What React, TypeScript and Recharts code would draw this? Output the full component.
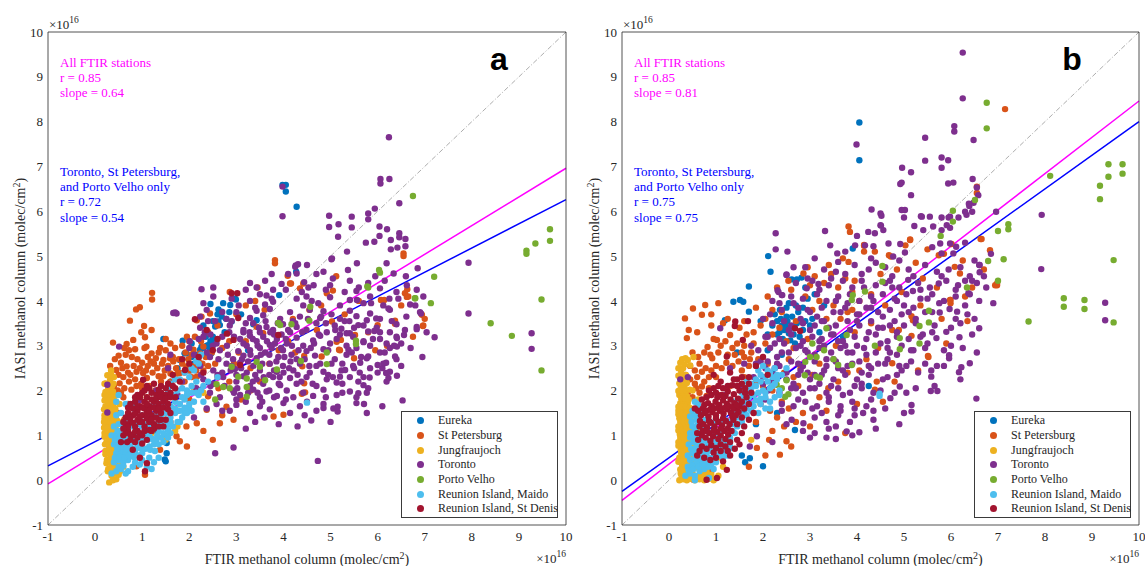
import React from 'react';
import { ScatterChart, Scatter, XAxis, YAxis, ReferenceLine, Legend } from 'recharts';

const SERIF = '"Liberation Serif", "Times New Roman", serif';
const SANS = '"Liberation Sans", Arial, sans-serif';
const INK = '#262626';

const TICKS = [-1, 0, 1, 2, 3, 4, 5, 6, 7, 8, 9, 10];
const DOMAIN: [number, number] = [-1, 10];

const STATION_NAMES = ['Eureka', 'St Petersburg', 'Jungfraujoch', 'Toronto', 'Porto Velho', 'Reunion Island, Maido', 'Reunion Island, St Denis'];
const STATION_COLORS = ['#0072BD', '#D95319', '#EDB120', '#7E2F8E', '#77AC30', '#4DBEEE', '#A2142F'];

// ---------- Panel a (x = FTIR, y = IASI, units 1e16 molec/cm2) ----------
const EUREKA_A = `1.45,3.15 1.86,3.11 2.45,3.93 2.62,3.81 2.69,3.76 2.69,3.65 2.62,3.54 2.58,3.46 2.99,4.03 2.87,3.91 2.23,2.91 2.3,2.95 2.37,3.0 1.94,2.83 1.8,2.68 1.52,0.83 1.48,0.46 1.5,0.42 1.52,0.6 3.91,4.13 3.98,6.59 4.05,6.59 4.05,6.44 4.28,6.1 2.55,3.43 2.65,3.46 2.4,3.01 2.47,2.83 2.1,2.6 1.9,2.83 2.26,2.98 2.44,2.9 2.97,4.05 2.9,3.54 3.43,3.57 3.36,3.48 4.27,4.65 2.05,2.75 2.15,2.8 1.75,2.5 1.6,2.2 2.0,2.45 2.5,3.2 2.75,3.3 3.1,3.7 3.25,2.9 1.35,1.5 1.25,1.1 2.55,3.1`;
const EUREKA_A_MORE = `2.35,3.2 2.5,3.55 2.6,3.7 2.78,3.6 2.72,3.95 2.85,3.75 2.45,3.1 2.2,2.75 2.05,3.05 2.3,3.45`;
const STPETE_A = `1.21,4.18 1.21,4.03 0.87,3.81 0.95,3.86 0.74,3.56 0.38,3.07 0.67,3.04 1.04,3.44 0.81,3.13 1.06,3.19 1.09,2.98 0.65,2.8 1.2,2.83 1.29,2.72 1.45,2.68 1.59,2.72 1.66,2.65 0.45,2.46 0.67,2.54 0.88,2.42 1.02,2.39 0.52,2.16 0.77,2.02 0.95,1.87 1.8,2.39 1.94,2.54 2.09,2.91 2.23,2.83 2.3,2.98 2.16,3.57 2.26,3.65 2.44,3.72 2.86,4.2 3.82,4.91 3.82,4.84 3.6,3.8 3.43,3.42 3.57,3.28 2.4,1.87 2.62,2.05 2.79,1.64 1.94,1.2 2.16,1.27 2.37,1.57 1.73,0.98 1.8,0.87 1.38,0.68 0.95,0.53 0.88,0.31 1.06,0.12 0.67,0.68 3.79,1.42 4.0,1.46 2.16,2.31 2.65,1.27 2.94,1.35 6.55,5.06 6.55,5.0 5.12,4.55 5.05,4.23 4.42,4.39 4.35,4.28 4.16,4.39 6.94,3.69 6.96,3.44 6.63,4.26 6.65,4.1 6.07,4.02 6.14,4.02 6.37,3.56 6.37,3.49 6.0,3.46 5.5,2.72 5.22,3.13 5.18,2.91 4.44,2.77 4.4,2.54 4.44,2.16 4.46,1.96 4.81,2.76 5.03,3.54 4.71,3.35 4.92,4.17 5.52,3.24 4.09,4.56 4.14,4.39 6.58,4.17 6.62,4.09 6.97,3.45 5.2,2.9 5.13,3.09 4.39,1.93 0.6,2.3 0.72,2.2 0.85,2.25 0.98,2.15 1.1,2.28 1.22,2.4 1.35,2.32 1.48,2.45 1.6,2.38 1.72,2.5 1.85,2.6 1.98,2.7 2.1,2.55 2.2,2.65 2.35,2.75 2.48,2.85 2.55,2.6 2.3,2.45 2.05,2.3 1.9,2.2 1.7,2.25 1.55,2.1 1.4,2.2 1.25,2.6 1.12,2.55 1.0,2.62 0.9,2.7 0.78,2.75 0.55,2.62 0.48,2.0 0.6,1.85 0.7,1.7 1.35,2.85 1.5,2.9 1.7,2.95 1.85,3.0 2.0,3.1 2.12,3.2 2.4,3.3 2.6,3.45 2.7,2.95 2.85,3.1 2.95,2.6 3.05,2.85 3.2,3.1 3.3,2.5 2.85,2.2 2.6,2.3 2.2,2.0 2.0,1.8 1.75,1.55 1.6,1.3 2.3,1.1 2.5,0.9 1.95,0.75 2.7,1.45 3.1,1.8 3.3,2.0 3.5,2.2 3.7,2.6 3.9,2.9 4.1,3.1 4.25,2.85 4.2,3.6 4.55,3.8 4.8,3.9 5.3,3.7 5.6,4.0 5.8,3.3 5.95,2.9 6.2,3.0 6.5,3.9 6.75,3.2 7.0,3.6 3.0,3.7 3.2,3.9 3.4,4.0 3.45,4.3 0.5,1.5 0.62,1.35`;
const STPETE_A_MORE = `0.35,2.3 0.42,2.7 0.5,2.35 0.58,2.5 0.7,2.4 0.82,2.55 0.95,2.5 1.08,2.45 1.18,2.65 1.32,2.5 1.42,2.6 1.55,2.55 1.65,2.75 1.78,2.7 1.92,2.85 2.05,2.8 0.62,2.05 0.75,2.35 0.88,2.1 1.0,2.05 1.15,2.1 1.28,2.0 1.45,2.32 1.6,2.2 1.75,2.38 1.9,2.4 2.02,2.45 2.15,2.45 2.28,2.6 2.4,2.55 0.55,1.95 0.4,2.1 0.32,2.55 0.5,2.78 0.62,2.95 0.72,2.9 1.12,2.75 1.38,2.95 1.6,3.05 1.95,3.2 2.25,3.1 0.85,2.92 1.05,2.95 1.2,3.35 0.98,3.3 1.5,3.15`;
const JUNGFRAU_A = `0.3,-0.05 0.38,0.0 0.45,0.02 0.35,0.1 0.42,0.15 0.5,0.12 0.28,0.25 0.36,0.3 0.46,0.28 0.55,0.3 0.25,0.45 0.33,0.5 0.41,0.45 0.5,0.5 0.58,0.48 0.22,0.65 0.3,0.7 0.38,0.68 0.47,0.72 0.55,0.7 0.24,0.85 0.32,0.9 0.4,0.88 0.5,0.92 0.2,1.05 0.28,1.1 0.36,1.08 0.45,1.12 0.22,1.25 0.3,1.3 0.39,1.28 0.48,1.32 0.2,1.45 0.27,1.5 0.35,1.48 0.43,1.52 0.22,1.65 0.3,1.7 0.38,1.68 0.25,1.85 0.33,1.9 0.42,1.88 0.28,2.05 0.36,2.1 0.32,2.25 0.34,2.45 0.4,2.3 0.2,2.15 0.52,1.7 0.55,1.0 0.62,0.8 0.6,0.3 0.65,1.3 1.2,1.05 1.45,1.35 1.7,1.1 1.75,1.2 1.85,2.2 2.1,2.05 1.1,1.85 0.9,1.6 2.3,1.95 0.7,0.95 1.5,0.9`;
const JUNGFRAU_A_MORE = `0.27,0.2 0.36,0.21 0.45,0.19 0.53,0.2 0.24,0.38 0.32,0.39 0.41,0.37 0.5,0.38 0.22,0.58 0.3,0.6 0.39,0.59 0.47,0.6 0.21,0.8 0.29,0.79 0.37,0.8 0.45,0.8 0.2,0.97 0.28,0.98 0.37,0.99 0.45,1.0 0.19,1.17 0.27,1.18 0.35,1.19 0.43,1.18 0.2,1.38 0.28,1.39 0.36,1.4 0.44,1.4 0.19,1.58 0.27,1.6 0.35,1.59 0.43,1.6 0.2,1.78 0.28,1.78 0.36,1.79 0.22,1.97 0.3,1.98 0.38,1.98 0.23,2.16 0.31,2.17 0.39,2.15 0.26,2.34 0.34,2.36 0.2,1.9 0.19,1.3`;
const TORONTO_A = `6.24,7.65 6.06,6.72 6.06,6.62 6.25,6.72 3.98,6.55 3.98,5.89 6.46,6.18 5.94,6.06 5.8,5.95 5.8,5.82 5.45,5.88 4.97,5.9 4.97,5.65 5.17,5.71 5.45,5.64 6.04,5.66 6.46,5.51 6.28,5.36 6.46,5.42 6.59,5.38 6.59,5.22 6.42,5.19 6.28,5.15 5.16,5.43 5.93,5.32 6.04,5.45 5.02,4.93 4.26,4.79 4.31,4.82 4.28,4.61
3.29,4.4 3.43,4.3 3.61,4.45 3.78,4.25 3.96,4.38 4.39,4.2 4.44,4.42 4.53,4.3 4.99,4.35 5.41,4.45 5.55,4.22 5.8,4.4 6.05,4.28 6.15,4.45 6.4,4.2 6.62,4.35 6.83,4.25
2.3,3.95 2.51,4.1 3.29,4.0 3.61,3.92 3.64,4.12 3.78,3.98 4.28,4.05 4.42,3.9 4.49,4.1 4.74,3.95 4.99,4.08 5.2,3.9 5.41,4.02 5.7,3.95 5.84,4.1 6.12,3.9 6.44,4.05 6.69,3.92 6.97,4.1
1.73,3.72 2.23,3.65 2.37,3.8 2.79,3.6 3.0,3.75 3.29,3.62 3.43,3.78 3.57,3.68 3.71,3.82 3.93,3.6 4.14,3.75 4.35,3.65 4.56,3.8 4.78,3.62 4.85,3.77 5.02,3.7 5.2,3.6 5.41,3.78 5.55,3.66 5.84,3.72 6.05,3.6 6.26,3.8 6.61,3.65 6.9,3.75
2.23,3.4 2.33,3.3 2.86,3.45 3.15,3.35 3.36,3.5 3.5,3.3 3.64,3.42 3.78,3.35 3.99,3.48 4.14,3.3 4.28,3.42 4.49,3.35 4.7,3.5 4.92,3.3 5.09,3.45 5.23,3.38 5.41,3.28 5.7,3.45 5.8,3.32 5.98,3.4 6.26,3.3 6.4,3.48 6.58,3.35 6.83,3.42 7.04,3.3
2.01,3.1 2.3,3.2 2.58,3.05 3.08,3.15 3.22,3.0 3.29,3.22 3.43,3.1 3.57,3.2 3.71,3.02 3.86,3.15 3.96,3.25 4.07,3.05 4.28,3.18 4.42,3.0 4.63,3.12 4.78,3.22 4.99,3.05 5.13,3.15 5.34,3.0 5.48,3.2 5.7,3.08 5.84,3.0 6.05,3.15 6.19,3.05 6.4,3.2
2.37,2.85 2.44,2.75 2.65,2.9 2.93,2.7 3.04,2.88 3.15,2.78 3.29,2.9 3.43,2.72 3.61,2.85 3.75,2.95 3.89,2.75 3.99,2.9 4.17,2.8 4.28,2.7 4.49,2.88 4.67,2.78 4.85,2.92 5.09,2.7 5.34,2.8 5.55,2.95 5.77,2.72 6.05,2.85 6.26,2.95 6.4,2.7
2.23,2.55 2.51,2.45 2.79,2.6 2.97,2.48 3.08,2.62 3.22,2.4 3.36,2.55 3.5,2.45 3.71,2.6 3.86,2.42 3.99,2.55 4.21,2.45 4.35,2.6 4.56,2.4 4.7,2.55 4.85,2.42 5.02,2.6 5.23,2.45 5.48,2.55 5.62,2.4 5.84,2.5 6.12,2.6 6.26,2.42
2.3,2.25 2.51,2.15 2.72,2.3 3.0,2.2 3.15,2.32 3.29,2.1 3.43,2.25 3.57,2.15 3.78,2.3 3.93,2.12 4.14,2.28 4.28,2.15 4.49,2.3 4.7,2.1 4.92,2.25 5.13,2.18 5.41,2.3 5.7,2.12 6.19,2.2
2.44,1.95 2.65,1.85 2.93,2.0 3.08,1.9 3.36,2.02 3.5,1.85 3.64,1.98 3.86,1.88 4.07,2.0 4.21,1.85 4.42,1.95 4.63,1.88 4.85,2.02 5.13,1.9 5.41,1.98 5.55,1.85 5.77,1.95
2.37,1.6 2.58,1.7 2.86,1.55 3.0,1.68 3.29,1.5 3.5,1.65 3.71,1.58 4.0,1.72 4.14,1.5 4.35,1.65 4.7,1.55 4.85,1.7 5.06,1.6 5.55,1.72 5.77,1.5 6.1,1.65 6.53,1.78
4.59,1.33 4.85,1.61 5.15,1.64 5.15,1.53 5.0,1.3 4.73,0.43 5.59,1.94 5.71,1.7 3.4,1.3 3.9,1.25 4.3,1.2 2.94,0.73 2.55,0.6 3.2,1.15
5.59,2.2 5.83,2.29 6.0,2.57 6.18,2.62 6.18,2.39 6.23,2.28 6.41,2.33 6.41,2.98 6.37,2.76 5.38,2.91 5.63,2.62 5.8,2.76 5.2,2.31 5.31,2.46 5.34,3.28 5.59,3.46 5.77,3.57 5.93,3.33 5.97,3.61 6.41,3.17 6.56,3.24 6.83,3.37 6.92,3.72 6.23,3.83 5.86,3.95 5.56,4.02 5.37,4.69 5.56,4.84 6.19,4.84 6.34,4.61 6.85,4.73 7.93,4.85 7.93,3.72 7.21,3.19 9.27,3.28 9.27,2.93 5.03,4.95 4.5,4.8 4.25,4.76 4.85,4.65 4.64,4.35
0.51,2.98 0.26,2.13 0.26,1.51 1.7,3.74 2.26,4.26 2.51,4.3 1.66,3.73 0.95,1.79 1.3,2.0 1.55,2.5 1.85,2.2 1.95,1.6 2.1,1.4 2.15,2.05 1.75,1.9 2.0,2.95 1.6,2.8
2.7,2.4 2.9,2.55 3.1,2.5 3.25,2.65 3.4,2.35 3.55,2.6 3.7,2.35 3.85,2.65 4.0,2.4 4.15,2.65 4.3,2.35 2.8,3.0 2.95,3.2 3.15,3.3 3.35,3.15 3.5,2.95 3.65,3.1 3.8,3.25 3.95,2.95 4.1,3.35 4.25,3.5 2.75,2.1 2.95,1.95 3.2,1.75 3.45,1.95 3.7,2.0 3.9,2.15`;
const TORONTO_A_MORE = `2.45,2.1 2.6,2.35 2.62,2.7 2.5,3.0 2.7,3.2 2.45,3.25 2.55,3.55 2.7,3.75 2.85,3.3 2.82,2.8 2.88,2.45 3.0,2.35 3.02,2.05 3.12,2.7 3.15,3.05 3.2,3.5 3.28,3.3 3.3,2.8 3.35,2.2 3.45,3.0 3.48,3.4 3.52,2.8 3.58,2.3 3.62,3.55 3.7,2.8 3.72,3.3 3.8,2.45 3.82,3.05 3.88,3.5 3.92,2.3 4.02,2.75 4.05,3.15 4.12,2.5 4.18,3.0 4.2,3.55 4.32,2.9 4.38,2.2 4.4,3.3 4.45,2.7 4.52,3.6 4.58,2.95 4.62,2.15 4.75,3.25 4.78,2.6 4.9,3.5 4.95,2.9 5.05,2.3 5.1,3.35 5.25,2.6 5.3,3.55 5.45,2.85 5.5,3.4 5.65,2.75 5.7,2.3 5.9,3.15 6.0,2.4 6.15,2.85 6.3,3.55 6.5,3.05 2.9,3.55 3.05,3.9 3.4,3.85 3.75,4.05 4.05,4.25 4.6,4.0 4.9,4.25 5.3,4.2 3.0,1.8 3.25,1.95 3.55,1.75 3.8,1.85 4.05,1.8 4.5,1.75 4.9,1.85 5.25,1.95 3.6,1.4 4.45,1.45 2.7,1.55
4.55,2.55 4.65,3.05 4.8,3.65 4.95,2.35 5.05,4.5 5.2,3.25 5.25,2.15 5.4,3.55 5.5,2.5 5.6,4.3 5.7,3.1 5.8,2.05 5.95,4.55 6.05,3.3 6.1,2.5 6.25,4.05 6.35,3.0 6.5,2.55 6.6,4.55 6.7,2.95 6.8,3.9 6.95,2.75 5.35,5.1 5.75,5.3 6.2,5.6 4.7,4.6 4.1,4.6 3.75,4.6 3.5,4.15 3.2,4.25 2.9,4.05 2.4,3.55 2.2,3.15 2.1,2.8 2.25,2.35`;
const PORTO_A = `6.03,4.69 6.05,4.63 6.8,4.06 7.13,3.95 7.2,4.54 6.75,6.34 9.16,5.12 9.16,5.05 9.35,5.28 9.66,5.34 9.66,5.6 9.48,4.03 9.48,2.45 8.4,3.5 8.85,3.22 5.54,3.11 5.54,3.04 4.92,2.85 4.92,2.59 5.8,4.3 4.57,3.87 4.55,3.56 4.37,2.66 4.17,3.48 3.89,3.51 3.93,3.46 3.86,2.47 3.43,2.64 3.5,2.53 2.9,2.53 3.04,2.31 3.22,2.27 3.22,2.08 2.72,2.08 2.86,2.05 2.58,2.14 3.61,2.23 3.22,1.86 2.55,1.8 5.78,4.32 6.79,4.06`;
const MAIDO_A = `0.35,0.15 0.45,0.2 0.55,0.25 0.4,0.4 0.5,0.45 0.6,0.4 0.7,0.45 0.45,0.6 0.55,0.62 0.65,0.6 0.75,0.65 0.85,0.6 0.4,0.8 0.5,0.78 0.6,0.82 0.7,0.8 0.8,0.85 0.9,0.8 1.0,0.85 0.35,1.0 0.45,1.02 0.55,1.0 0.65,1.05 0.75,1.0 0.85,1.05 0.95,1.0 1.05,1.05 1.15,1.0 0.4,1.2 0.5,1.25 0.6,1.2 0.7,1.28 0.8,1.2 0.9,1.25 1.0,1.2 1.1,1.25 1.2,1.2 1.3,1.25 0.45,1.45 0.55,1.5 0.7,1.45 0.85,1.5 1.0,1.45 1.1,1.42 1.2,1.45 1.3,1.48 1.4,1.45 1.5,1.5 1.35,1.1 1.45,1.2 1.55,1.25 1.6,1.4 1.7,1.5 1.5,1.7 1.6,1.65 1.7,1.75 1.8,1.7 1.9,1.8 1.4,1.65 1.3,1.7 1.2,1.65 1.45,1.9 1.55,1.95 1.65,1.9 1.75,2.0 1.85,2.05 1.95,2.0 2.05,2.1 1.6,2.15 1.8,2.25 2.0,2.3 2.1,2.45 2.2,2.6 2.25,2.8 1.3,0.9 1.5,1.0 1.6,1.05 1.4,0.95 0.5,1.9 0.45,1.75 0.65,1.7 0.8,1.7 1.0,0.6 1.15,0.75 1.25,0.8 0.95,0.35 1.1,0.3 1.25,0.4 0.7,0.2 2.0,1.6 2.2,1.9 2.4,2.2 2.6,2.3 2.3,1.75 4.5,1.73 2.15,2.2 1.9,1.5 1.8,1.3`;
const MAIDO_A_MORE = `0.5,0.3 0.6,0.32 0.42,0.5 0.52,0.52 0.62,0.5 0.72,0.55 0.82,0.52 0.92,0.55 0.47,0.7 0.57,0.72 0.67,0.7 0.77,0.72 0.87,0.7 0.97,0.72 1.07,0.7 1.17,0.68 1.27,0.65 0.42,0.9 0.52,0.92 0.62,0.9 0.72,0.92 0.82,0.95 0.92,0.92 1.02,0.95 1.12,0.9 1.22,0.92 1.32,1.0 0.48,1.1 0.58,1.12 0.68,1.15 1.4,1.3 1.5,1.35 1.6,1.3 1.45,1.05 1.55,1.12 1.65,1.2 1.75,1.3 1.85,1.4 1.95,1.5 2.05,1.55 1.7,1.6 1.8,1.55 1.9,1.62 2.0,1.7 2.1,1.75 2.15,1.95 2.05,1.95 1.95,1.9 1.85,1.85 2.25,2.0 2.3,2.1 1.7,2.25 1.9,2.4 2.05,2.5 2.15,2.65 1.55,2.05 1.4,1.85 1.5,1.6 1.35,0.8 1.45,0.85 1.55,0.95 0.85,0.4 1.0,0.45 1.15,0.5 0.8,0.3 0.65,0.15 1.2,0.25 1.35,0.5`;
const STDENIS_A = `0.6,1.0 0.7,1.1 0.8,1.0 0.9,1.1 1.0,1.0 0.65,1.25 0.75,1.3 0.85,1.2 0.95,1.3 1.05,1.2 1.15,1.3 1.25,1.25 0.7,1.5 0.8,1.45 0.9,1.55 1.0,1.45 1.1,1.5 1.2,1.45 1.3,1.55 1.4,1.5 0.75,1.7 0.85,1.75 0.95,1.65 1.05,1.75 1.15,1.65 1.25,1.75 1.35,1.7 1.45,1.75 1.55,1.7 0.9,1.9 1.0,1.95 1.1,1.85 1.2,1.95 1.3,1.9 1.4,1.95 1.5,1.9 1.6,1.95 1.7,1.85 1.1,2.1 1.25,2.15 1.4,2.1 1.55,2.15 1.7,2.05 1.8,2.2 1.02,2.24 1.91,2.46 1.65,2.35 2.0,2.6 2.2,2.75 2.37,3.35 2.6,3.15 2.94,3.13 2.9,4.17 3.02,4.17 2.12,3.59 2.8,3.27 3.04,3.62 3.89,3.24 3.08,2.57 0.8,0.68 0.95,0.5 1.1,0.38 1.06,0.2 0.55,0.85 1.5,1.35 1.6,1.5 1.35,1.35 1.45,1.2 0.85,0.85 1.2,1.1 2.3,2.4 2.5,2.9 1.85,2.7`;
const STDENIS_A_MORE = `0.65,1.05 0.75,1.02 0.85,1.08 0.95,1.05 1.05,1.1 1.15,1.12 1.25,1.15 1.35,1.2 0.7,1.2 0.8,1.28 0.9,1.35 1.0,1.3 1.1,1.38 1.2,1.35 1.3,1.4 1.4,1.35 0.65,1.4 0.75,1.4 0.85,1.48 0.95,1.42 1.05,1.6 1.15,1.55 1.25,1.62 1.35,1.6 1.45,1.62 1.55,1.58 0.7,1.62 0.8,1.6 0.9,1.65 1.0,1.62 1.1,1.7 1.2,1.8 1.3,1.82 1.4,1.85 1.5,1.82 1.6,1.85 0.85,1.85 0.95,1.85 1.05,2.0 1.15,2.05 1.35,2.02 1.5,2.05 1.65,2.1 0.75,0.9 0.9,0.95 1.1,0.9 1.0,0.82 0.68,0.85 0.6,1.15 0.6,1.3`;

// ---------- Panel b ----------
const EUREKA_B = `4.05,7.98 4.05,7.14 2.11,5.0 2.16,4.65 1.7,4.32 1.37,3.98 1.51,4.02 1.58,3.98 1.7,3.76 1.19,3.57 2.61,4.48 2.72,4.48 2.82,4.52 2.3,3.55 2.38,3.6 2.48,3.45 2.45,3.35 2.55,3.28 2.58,3.12 2.68,3.05 2.78,3.2 2.35,3.3 2.62,3.65 2.7,3.9 2.5,3.85 2.75,3.75 2.9,3.55 2.68,1.12 2.0,0.31 1.72,0.49 1.62,0.4 1.55,0.55 3.91,5.17 1.3,1.1 1.6,1.5 2.2,2.4 2.4,2.8 2.9,4.3 3.05,3.6 3.3,3.9 1.45,2.85 2.1,2.9 3.7,3.2 4.25,2.1 2.36,3.8 2.5,3.65`;
const EUREKA_B_MORE = `2.25,3.7 2.4,3.45 2.52,3.55 2.6,3.4 2.65,3.25 2.72,3.5 2.85,3.35 2.42,3.15 2.3,3.25 2.55,3.95 2.85,3.85 2.95,4.05 3.1,4.15 2.2,3.45 2.1,3.25 1.95,3.55 3.0,3.45 1.85,1.25 2.3,1.5 3.2,3.3`;
const STPETE_B = `0.34,3.61 0.51,3.83 0.7,3.69 0.77,3.91 0.38,3.17 0.82,2.97 1.3,3.24 1.02,3.13 0.92,2.72 0.7,2.42 0.7,2.09 0.8,1.88 2.86,4.61 2.54,4.45 2.13,0.9 2.5,0.87 1.87,0.72 2.36,0.57 0.52,0.01 0.95,3.15 1.1,3.0 1.2,3.1 1.35,2.95 1.45,3.05 1.55,2.85 1.05,2.85 1.25,2.8 0.35,2.35 0.45,2.25 0.55,2.15 0.6,2.3 0.65,1.95 0.75,2.2 0.85,2.05 0.4,1.95 0.5,1.85 1.5,3.4 1.65,3.25 1.8,3.3 1.95,3.45 2.05,3.05 2.2,3.25 2.35,3.4 2.5,3.1 2.65,2.95 1.75,2.85 1.9,2.7 2.1,2.6 2.3,2.55 2.45,2.4 2.65,2.3 2.8,2.5 1.7,2.55 1.6,2.3 1.85,2.2 2.0,2.1 2.2,2.0 2.95,4.75 3.1,4.55 3.3,4.4 3.45,4.6 3.6,4.3 3.75,4.5 3.9,4.2 4.05,4.0 3.2,4.0 3.5,3.9 3.05,3.8 2.9,4.1 3.8,3.75 3.65,3.6 1.95,1.7 2.15,1.55 2.3,1.4 2.55,1.6 2.7,1.3 2.45,1.2 2.2,1.1 1.85,1.3 2.85,1.5 3.0,1.2 0.6,0.05 0.75,0.1 0.45,0.4 0.9,0.2 4.68,5.02 5.74,5.02 6.98,4.39 6.98,4.35 5.99,4.02 5.99,3.95 5.16,3.66 5.19,3.57 4.89,3.35 5.16,3.22 5.51,2.77 4.38,2.02 4.75,2.61 6.55,6.55 6.55,6.41 5.13,5.37 6.01,5.27 6.63,5.38 5.03,5.24 4.15,5.25 4.15,5.1 4.38,5.1 3.82,5.66 3.85,5.54 5.13,5.36 4.15,5.23 4.72,4.99 3.82,4.87 6.08,4.76 6.19,4.61 6.65,5.38 6.83,5.13 6.94,4.35 5.98,4.02 5.52,2.75 4.42,2.2 3.39,2.05 7.15,8.28 3.55,3.0 3.95,3.3 4.3,3.5 4.6,3.9 4.95,4.2 5.4,4.5 5.7,4.3 6.3,4.1 4.2,2.7 3.8,2.4 3.2,2.6 4.55,1.75 3.35,1.55 3.75,1.05`;
const STPETE_B_MORE = `0.45,2.55 0.55,2.45 0.65,2.6 0.78,2.5 0.9,2.45 1.0,2.55 1.12,2.5 1.22,2.62 1.35,2.55 1.48,2.65 1.6,2.75 1.72,2.7 0.5,2.85 0.62,2.75 0.75,2.85 0.88,2.8 1.4,2.8 1.6,3.0 1.8,3.05 0.58,2.05 0.85,2.3 1.0,2.3 1.55,2.45 0.42,3.35 0.6,3.3 0.9,3.45 1.15,3.5 2.05,3.6 2.4,3.75 2.7,3.55 2.2,3.8
0.9,3.7 1.05,3.95 1.25,3.6 1.6,3.55 1.85,3.85 2.1,4.1 2.3,4.3 2.6,4.25 3.0,4.35 3.4,4.8 3.7,4.95 3.95,4.45 4.3,4.15 4.5,4.6 4.85,4.7 5.25,4.85 5.5,5.15 5.85,5.05 6.25,4.9 6.45,4.3 6.7,4.7 6.35,3.55 5.8,3.6 5.35,3.9 4.75,3.35 4.45,2.95 4.05,2.45 3.6,2.2 3.05,2.35 2.75,2.1 2.55,2.7 2.95,3.15 3.35,3.6 3.9,3.8 1.3,2.1 1.05,1.9 1.55,1.75 1.75,1.95 2.4,1.75 2.6,0.75 2.05,0.55 1.7,0.3 3.2,1.85 4.0,1.7 4.8,2.2 5.3,2.45 5.9,3.05`;
const JUNGFRAU_B = `0.22,0.0 0.3,0.02 0.38,0.0 0.46,0.03 0.55,0.0 0.65,0.02 0.75,0.0 0.85,0.03 0.95,0.0 0.25,0.15 0.33,0.18 0.42,0.14 0.5,0.16 0.28,0.32 0.36,0.35 0.45,0.3 0.22,0.5 0.3,0.52 0.4,0.5 0.48,0.48 0.25,0.68 0.33,0.7 0.42,0.68 0.2,0.85 0.28,0.88 0.37,0.86 0.46,0.85 0.23,1.02 0.31,1.05 0.4,1.03 0.2,1.2 0.28,1.22 0.36,1.2 0.45,1.22 0.22,1.38 0.3,1.4 0.38,1.38 0.2,1.55 0.28,1.58 0.36,1.55 0.24,1.72 0.32,1.75 0.4,1.72 0.22,1.9 0.3,1.92 0.38,1.88 0.25,2.08 0.33,2.1 0.28,2.25 0.36,2.28 0.26,2.42 0.33,2.58 0.24,2.62 0.4,2.68 0.45,2.56 0.52,2.75 0.5,2.0 0.55,1.5 0.58,0.6 0.7,0.15 0.8,0.2 1.05,0.1 0.6,1.1 0.62,1.8 1.05,0.5 1.15,0.3 1.75,0.9`;
const JUNGFRAU_B_MORE = `0.27,0.08 0.35,0.09 0.43,0.08 0.52,0.1 0.6,0.09 0.24,0.24 0.32,0.25 0.4,0.24 0.48,0.25 0.56,0.28 0.2,0.41 0.28,0.42 0.36,0.42 0.44,0.41 0.52,0.4 0.26,0.6 0.34,0.6 0.42,0.59 0.5,0.62 0.2,0.77 0.28,0.78 0.36,0.77 0.44,0.76 0.52,0.78 0.24,0.94 0.32,0.95 0.41,0.94 0.5,0.95 0.2,1.11 0.28,1.12 0.36,1.12 0.44,1.1 0.24,1.3 0.32,1.3 0.4,1.3 0.48,1.32 0.2,1.47 0.28,1.48 0.36,1.47 0.44,1.48 0.2,1.64 0.28,1.65 0.36,1.64 0.44,1.62 0.26,1.82 0.34,1.82 0.42,1.8 0.2,1.99 0.28,2.0 0.36,2.0 0.44,2.02 0.22,2.16 0.3,2.18 0.38,2.17 0.2,2.33 0.28,2.34 0.36,2.35 0.2,2.5 0.3,2.5 0.28,2.7 0.35,2.72 0.7,0.08 0.8,0.1 0.9,0.12 0.65,0.3 0.75,0.32`;
const TORONTO_B = `6.25,9.54 6.25,8.52 3.99,7.49 6.07,7.9 6.07,7.78 5.45,7.64 6.48,7.59 5.8,7.2 5.94,7.14 5.8,6.97 5.45,7.13 4.96,6.97 5.15,6.87 4.95,6.64 4.92,6.61 5.15,6.36 5.94,6.62 6.05,6.64 6.46,6.72 6.55,6.53 6.58,6.36 6.39,6.12 6.48,6.19 6.3,5.99 4.31,6.04 5.02,6.03 5.0,5.86 4.52,5.9 4.51,5.68 5.38,5.88 5.55,5.88 5.8,5.86 5.98,5.88 6.16,5.86 6.33,5.92 5.91,5.69 5.98,5.63 5.22,5.67 5.41,5.58 5.62,5.66 5.8,5.58 3.32,5.56 4.24,5.54 4.38,5.51 4.56,5.58 2.27,5.51 2.52,5.1 2.27,5.15 3.43,5.24 3.58,5.06 3.6,4.87 4.0,5.45 3.96,5.24 4.17,5.24 4.35,5.22 4.92,5.27 4.67,5.28 4.77,4.99 5.02,5.08 5.77,5.28 5.98,5.28 6.11,5.21 5.8,5.06 6.05,5.06 2.31,4.24 2.4,4.13 2.5,4.59 2.93,4.28 3.18,4.38
2.9,4.75 3.3,4.7 3.55,4.65 3.95,4.8 4.25,4.7 4.6,4.75 5.1,4.7 5.45,4.8 5.7,4.65 6.2,4.75 6.6,4.8
2.7,4.4 3.05,4.45 3.4,4.35 3.7,4.45 3.9,4.3 4.1,4.45 4.4,4.35 4.7,4.45 4.9,4.3 5.3,4.4 5.55,4.3 5.9,4.45 6.15,4.35 6.45,4.45 6.75,4.3
2.6,4.1 2.85,4.05 3.15,4.15 3.35,4.0 3.6,4.1 3.85,4.15 4.05,4.0 4.3,4.1 4.55,4.15 4.8,4.05 5.05,4.15 5.35,4.05 5.6,4.15 5.85,4.0 6.1,4.1 6.4,4.15 6.6,4.0
2.4,3.8 2.75,3.85 3.0,3.75 3.25,3.85 3.5,3.75 3.75,3.85 4.0,3.7 4.2,3.85 4.45,3.75 4.7,3.8 4.95,3.7 5.2,3.85 5.45,3.75 5.76,3.74 5.97,3.82 6.13,3.76 6.37,4.17
2.2,3.5 2.45,3.55 2.85,3.5 3.1,3.45 3.3,3.55 3.55,3.45 3.8,3.55 4.05,3.45 4.3,3.55 4.55,3.4 4.8,3.55 5.0,3.45 5.25,3.5 5.65,3.45 5.9,3.31 6.6,3.39 6.2,3.5
2.1,3.2 2.35,3.15 2.6,3.25 2.85,3.1 3.05,3.2 3.25,3.15 3.5,3.25 3.7,3.1 3.95,3.2 4.2,3.15 4.4,3.25 4.65,3.1 4.85,3.2 5.1,3.15 5.69,3.17 6.18,3.19 5.4,3.25
1.9,2.9 2.15,2.95 2.4,2.85 2.7,2.95 2.95,2.85 3.2,2.95 3.45,2.85 3.65,2.95 3.9,2.85 4.15,2.95 4.4,2.85 4.65,2.95 4.85,2.8 5.2,2.9 5.96,2.72 5.96,2.79 5.45,2.95
1.85,2.6 2.1,2.65 2.35,2.55 2.6,2.65 2.85,2.55 3.1,2.65 3.35,2.55 3.55,2.65 3.8,2.55 4.05,2.65 4.3,2.5 4.6,2.6 4.9,2.55 5.15,2.65 6.4,2.61 6.22,2.52
2.0,2.3 2.25,2.35 2.5,2.25 2.75,2.35 3.0,2.25 3.25,2.35 3.5,2.25 3.75,2.35 4.0,2.25 4.25,2.35 4.55,2.25 4.85,2.35 5.58,2.31 5.58,2.45 6.17,2.41
2.1,2.0 2.35,1.95 2.6,2.05 2.85,1.95 3.1,2.05 3.35,1.95 3.6,2.05 3.85,1.95 4.1,2.05 4.35,1.95 4.91,2.09 5.71,1.99 5.57,1.99
2.4,1.7 2.65,1.65 2.9,1.75 3.15,1.65 3.4,1.75 3.65,1.65 3.9,1.75 4.2,1.65 4.71,1.83 5.16,1.68 6.54,1.82
2.61,1.35 2.86,1.27 3.1,1.4 3.35,1.3 3.6,1.45 4.13,1.5 5.16,1.53 5.0,1.5 3.85,1.3
3.78,1.09 4.05,1.07 3.55,0.92 1.87,0.98 1.72,0.75 2.2,0.85 3.1,1.05
0.24,2.25 0.4,2.3 1.09,3.39 2.33,4.2 2.41,4.13 2.5,4.58 1.2,1.9 1.5,2.1 1.6,2.6 1.8,2.3 1.75,3.0 2.0,3.6 1.3,2.5
6.61,4.64 6.61,4.8 5.74,4.39 5.09,4.47 5.19,4.22 7.92,4.71 9.28,3.96 9.28,3.57 6.96,5.99 7.93,5.92 6.38,6.17 4.5,5.95 4.5,5.69 4.95,6.03 5.36,5.89 5.95,5.86 6.45,5.99 6.4,4.55 6.55,4.4 6.3,3.9 6.5,3.6`;
const TORONTO_B_MORE = `2.0,2.15 2.25,2.5 2.3,2.75 2.25,3.05 2.5,2.4 2.55,2.85 2.55,3.35 2.65,2.15 2.75,2.6 2.8,3.0 2.8,3.6 2.95,2.4 3.0,2.05 3.0,3.35 3.1,2.8 3.15,3.65 3.2,2.15 3.3,2.45 3.3,3.0 3.4,3.4 3.45,2.1 3.5,2.7 3.6,3.1 3.65,3.75 3.7,2.45 3.7,1.9 3.8,2.85 3.85,3.35 3.95,2.1 4.0,3.0 4.05,3.7 4.1,2.4 4.2,2.8 4.25,3.3 4.3,1.8 4.35,4.0 4.45,2.6 4.5,3.05 4.55,3.65 4.65,2.3 4.7,2.85 4.75,4.3 4.85,3.3 4.95,2.45 5.0,3.9 5.05,1.95 5.15,2.9 5.25,3.6 5.3,2.4 5.35,4.25 5.5,3.05 5.6,3.75 5.7,2.55 5.8,4.55 5.85,2.9 6.0,3.4 6.1,4.25 6.25,2.95 6.35,3.7 6.5,4.9 2.95,4.5 3.2,4.25 3.45,4.5 3.75,4.6 4.1,4.6 4.4,4.85 4.75,4.55 2.15,3.7 2.35,3.95 2.65,3.95 2.05,2.5 2.4,1.55 2.75,1.8 3.25,1.5 3.55,1.2 3.95,1.45 4.35,1.35 4.6,1.6 2.85,1.1 3.35,0.95
2.05,1.8 2.2,2.2 2.3,2.6 2.45,3.05 2.6,3.45 2.7,2.05 2.8,2.45 2.9,2.9 2.95,3.8 3.05,1.6 3.1,2.35 3.2,3.1 3.25,3.55 3.35,2.7 3.4,1.85 3.45,3.25 3.55,4.0 3.6,2.5 3.65,1.55 3.75,3.0 3.8,3.95 3.9,2.6 3.95,1.6 4.0,3.55 4.1,2.15 4.15,4.3 4.25,2.55 4.3,3.85 4.35,1.55 4.45,3.4 4.5,2.0 4.6,4.4 4.65,2.7 4.7,3.45 4.8,1.95 4.85,4.0 4.95,3.0 5.05,2.55 5.1,3.75 5.2,4.55 5.25,2.05 5.35,3.2 5.45,2.6 5.5,4.05 5.6,3.3 5.65,2.1 5.75,3.95 5.85,2.55 5.95,4.7 6.0,3.0 6.1,3.6 6.2,2.25 6.3,4.45 6.45,3.25 6.55,2.85 6.7,4.55 6.85,5.05 6.9,3.95 6.3,5.3 5.6,5.2 4.9,4.9 4.3,4.95 3.75,5.1 3.1,4.95 2.65,4.75 2.2,4.0 2.05,3.2 1.95,2.65 2.5,1.25 3.0,0.95 3.4,1.15 3.9,1.0 4.4,1.15 4.9,1.25`;
const PORTO_B = `6.76,8.42 6.76,7.85 8.11,6.79 9.35,7.05 9.35,6.77 9.65,7.05 9.65,6.84 9.17,6.57 9.17,6.27 6.04,6.01 6.51,6.25 6.04,5.77 5.78,5.45 7.0,5.56 7.22,5.71 7.22,5.6 9.46,4.91 7.12,4.93 6.79,4.89 7.0,4.45 6.34,4.3 8.4,4.06 8.4,3.87 8.84,4.02 8.84,3.82 7.65,3.54 9.46,3.52 5.53,3.78 5.53,3.52 5.33,3.44 5.33,3.05 4.91,3.17 4.91,2.92 4.38,3.0 4.54,4.78 4.54,4.43 4.17,4.21 3.91,4.13 3.89,4.02 3.78,3.24 3.35,3.39 3.14,2.75 3.0,2.75 2.9,2.64 2.5,2.23 2.54,1.92 2.47,1.86 2.89,2.34 3.6,2.57 3.89,2.57 3.14,2.31 3.21,2.28 2.29,2.13 2.4,2.05 3.05,3.05 3.3,2.9 3.5,2.7`;
const MAIDO_B = `0.35,0.1 0.45,0.15 0.55,0.1 0.65,0.2 0.75,0.25 0.4,0.3 0.5,0.35 0.6,0.4 0.7,0.45 0.8,0.4 0.9,0.35 1.0,0.4 0.4,0.55 0.5,0.6 0.6,0.62 0.7,0.65 0.8,0.6 0.9,0.65 1.0,0.7 1.1,0.6 0.42,0.8 0.52,0.85 0.62,0.82 0.72,0.88 0.82,0.85 0.92,0.9 1.02,0.85 1.12,0.9 1.22,0.8 0.45,1.05 0.55,1.1 0.65,1.05 0.75,1.12 0.85,1.05 0.95,1.1 1.05,1.05 1.15,1.1 1.25,1.05 0.48,1.3 0.58,1.35 0.68,1.28 0.78,1.35 0.88,1.3 1.0,1.32 1.1,1.3 1.2,1.35 1.3,1.3 0.5,1.55 0.6,1.6 0.72,1.55 0.55,1.75 1.35,1.5 1.45,1.55 1.55,1.6 1.4,1.75 1.5,1.8 1.6,1.75 1.7,1.85 1.8,1.9 1.65,2.0 1.75,2.05 1.85,2.1 1.95,2.2 2.05,2.3 2.15,2.4 2.25,2.5 1.9,2.45 2.0,2.55 2.1,2.2 2.2,2.1 2.3,2.25 1.55,1.3 1.65,1.45 1.75,1.55 1.45,1.2 1.3,0.95 1.4,1.05 1.2,0.6 1.3,0.75 0.55,0.0 0.85,0.05 4.48,1.93 4.48,1.88 2.4,2.35 1.95,1.7 2.35,2.0 2.5,2.5 1.9,1.95 2.05,1.85 2.15,1.75 1.8,1.65 2.0,2.0`;
const MAIDO_B_MORE = `0.42,0.22 0.52,0.25 0.62,0.3 0.72,0.35 0.84,0.3 0.95,0.25 0.45,0.45 0.55,0.48 0.65,0.52 0.75,0.55 0.85,0.5 0.95,0.52 1.05,0.55 1.15,0.5 1.25,0.55 0.47,0.7 0.57,0.72 0.67,0.75 0.77,0.75 0.87,0.72 0.97,0.78 1.07,0.75 1.17,0.72 1.28,0.7 0.45,0.95 0.55,0.97 0.65,0.95 1.3,0.9 1.35,1.1 1.38,1.25 0.5,1.2 0.6,1.22 0.45,1.42 0.55,1.45 0.65,1.42 0.62,1.7 1.45,1.4 1.55,1.45 1.65,1.6 1.75,1.7 1.85,1.78 1.95,1.82 2.05,1.95 2.15,2.05 2.25,2.15 2.3,2.35 2.2,2.3 2.1,2.45 1.95,2.35 1.85,2.25 1.75,2.15 1.65,2.2 1.55,1.95 1.6,1.85 1.45,1.65 1.35,1.4 2.35,1.9 2.25,1.85 2.15,1.6 2.05,1.6 1.9,1.5`;
const STDENIS_B = `0.62,0.9 0.7,1.0 0.78,0.95 0.86,1.05 0.94,0.98 1.02,1.08 1.1,1.0 1.18,1.1 1.26,1.02 0.65,1.2 0.73,1.25 0.81,1.18 0.89,1.28 0.97,1.2 1.05,1.3 1.13,1.22 1.21,1.32 1.29,1.25 1.37,1.35 0.68,1.45 0.76,1.5 0.84,1.42 0.92,1.52 1.0,1.45 1.08,1.55 1.16,1.48 1.24,1.58 1.32,1.5 1.4,1.6 1.48,1.52 0.75,1.68 0.83,1.72 0.91,1.65 0.99,1.75 1.07,1.68 1.15,1.78 1.23,1.7 1.31,1.8 1.39,1.72 1.47,1.82 1.55,1.75 0.9,1.9 1.0,1.95 1.12,1.9 1.25,1.98 1.38,1.92 1.5,2.0 1.62,1.95 0.7,0.75 0.8,0.7 0.9,0.78 1.0,0.72 1.1,0.8 1.2,0.75 1.3,0.85 0.75,0.5 0.88,0.45 1.0,0.5 1.15,0.42 1.3,0.55 1.45,0.9 1.55,1.05 1.6,1.2 1.7,1.35 1.8,1.5 0.8,0.01 1.02,0.05 1.23,0.23 1.41,3.54 1.68,3.55 1.57,3.13 1.23,2.76 1.4,3.44 2.68,3.39 2.79,3.33 1.7,2.3 1.85,2.55 2.0,2.75 1.3,2.4 1.1,2.2 0.95,2.35 0.55,1.6 2.1,2.35 1.45,2.25`;
const STDENIS_B_MORE = `0.6,1.05 0.66,1.32 0.72,1.1 0.8,1.1 0.85,1.32 0.88,0.88 0.95,1.12 1.0,1.38 1.05,0.92 1.1,1.15 1.15,1.38 1.2,0.92 1.25,1.15 1.33,1.1 1.35,1.42 1.42,1.45 1.45,1.25 1.5,1.65 1.55,1.4 1.6,1.6 1.65,1.85 1.7,1.7 1.62,2.05 1.55,2.15 1.45,2.1 1.35,2.12 1.25,2.1 1.15,2.05 1.05,2.1 0.95,2.05 0.85,2.0 0.8,1.85 0.7,1.8 0.62,1.55 0.72,1.6 0.8,1.55 0.88,1.58 0.96,1.6 1.04,1.62 1.12,1.6 1.2,1.62 1.28,1.65 1.36,1.62 1.44,1.68 1.03,1.85 1.2,1.88 1.38,2.25 1.55,2.3 1.7,2.15 1.75,1.95 0.95,0.62 1.1,0.65 1.25,0.65 1.4,0.7 1.5,0.8 0.65,0.65 0.6,0.55`;

// regression lines: [slope, intercept]
const FIT_ALL_A = [0.64, 0.56];
const FIT_SUB_A = [0.54, 0.86];
const FIT_ALL_B = [0.81, 0.36];
const FIT_SUB_B = [0.75, 0.5];

const STATS_ALL_A = ['All FTIR stations', 'r = 0.85', 'slope = 0.64'];
const STATS_SUB_A = ['Toronto, St Petersburg,', 'and Porto Velho only', 'r = 0.72', 'slope = 0.54'];
const STATS_ALL_B = ['All FTIR stations', 'r = 0.85', 'slope = 0.81'];
const STATS_SUB_B = ['Toronto, St Petersburg,', 'and Porto Velho only', 'r = 0.75', 'slope = 0.75'];

const parse = (...parts: string[]) =>
  parts.join(' ').trim().split(/\s+/).map((p) => {
    const [x, y] = p.split(',').map(Number);
    return { x, y };
  });

const H = 566;
const TOP = 32;
const XAXIS_H = 41;
const YAXIS_W = 48;

const LegendBox = () => (
  <div
    style={{
      width: 157,
      height: 107,
      boxSizing: 'border-box',
      border: '1px solid #3a3a3a',
      background: '#fff',
      fontFamily: SERIF,
      fontSize: 12,
      color: INK,
      paddingTop: 1.5,
    }}
  >
    {STATION_NAMES.map((n, i) => (
      <div key={n} style={{ display: 'flex', alignItems: 'center', height: 14.67, whiteSpace: 'nowrap' }}>
        <span
          style={{
            display: 'inline-block',
            flexShrink: 0,
            width: 7,
            height: 7,
            borderRadius: '50%',
            background: STATION_COLORS[i],
            marginLeft: 14.5,
            marginRight: 14.5,
          }}
        />
        <span>{n}</span>
      </div>
    ))}
  </div>
);

type PanelProps = {
  left: number;
  width: number;
  rightMargin: number;
  series: { x: number; y: number }[][];
  letter: string;
  statsAll: string[];
  statsSub: string[];
  fitAll: number[];
  fitSub: number[];
};

const Panel = ({ left, width, rightMargin, series, letter, statsAll, statsSub, fitAll, fitSub }: PanelProps) => {
  const plotL = YAXIS_W;
  const plotR = width - rightMargin;
  const plotT = TOP;
  const plotB = H - XAXIS_H;
  const lineAt = (f: number[], x: number) => f[0] * x + f[1];
  const tickStyle = { fill: INK, fontSize: 13, fontFamily: SERIF };
  const axisStroke = { stroke: INK, strokeWidth: 0.8 };
  return (
    <div style={{ position: 'absolute', left, top: 0, width, height: H }}>
      <ScatterChart width={width} height={H} margin={{ top: TOP, right: rightMargin, bottom: 0, left: 0 }}>
        <XAxis xAxisId="b" type="number" dataKey="x" domain={DOMAIN} ticks={TICKS} allowDataOverflow height={XAXIS_H}
          tickLine={false} tickSize={0} tickMargin={7} axisLine={axisStroke} tick={tickStyle} interval={0} />
        <XAxis xAxisId="bm" type="number" orientation="bottom" mirror domain={DOMAIN} ticks={TICKS} allowDataOverflow
          tick={false} tickSize={5} tickLine={axisStroke} axisLine={false} interval={0} />
        <XAxis xAxisId="t" type="number" orientation="top" mirror domain={DOMAIN} ticks={TICKS} allowDataOverflow
          tick={false} tickSize={5} tickLine={axisStroke} axisLine={axisStroke} interval={0} />
        <YAxis yAxisId="l" type="number" dataKey="y" domain={DOMAIN} ticks={TICKS} allowDataOverflow width={YAXIS_W}
          tickLine={false} tickSize={0} tickMargin={5} axisLine={axisStroke} tick={tickStyle} interval={0} />
        <YAxis yAxisId="lm" type="number" orientation="left" mirror domain={DOMAIN} ticks={TICKS} allowDataOverflow
          tick={false} tickSize={5} tickLine={axisStroke} axisLine={false} interval={0} />
        <YAxis yAxisId="r" type="number" orientation="right" mirror domain={DOMAIN} ticks={TICKS} allowDataOverflow
          tick={false} tickSize={5} tickLine={axisStroke} axisLine={axisStroke} interval={0} />
        {series.map((d, i) => (
          <Scatter
            key={STATION_NAMES[i]}
            name={STATION_NAMES[i]}
            data={d}
            xAxisId="b"
            yAxisId="l"
            fill={STATION_COLORS[i]}
            isAnimationActive={false}
            shape={(p: any) => <circle cx={p.cx} cy={p.cy} r={3.2} fill={STATION_COLORS[i]} />}
          />
        ))}
        <ReferenceLine xAxisId="b" yAxisId="l" segment={[{ x: -1, y: -1 }, { x: 10, y: 10 }]}
          stroke="#8a8a8a" strokeWidth={0.7} strokeDasharray="5 2 1 2" />
        <ReferenceLine xAxisId="b" yAxisId="l" segment={[{ x: -1, y: lineAt(fitAll, -1) }, { x: 10, y: lineAt(fitAll, 10) }]}
          stroke="#FF00FF" strokeWidth={1.5} />
        <ReferenceLine xAxisId="b" yAxisId="l" segment={[{ x: -1, y: lineAt(fitSub, -1) }, { x: 10, y: lineAt(fitSub, 10) }]}
          stroke="#0000FF" strokeWidth={1.5} />
        <Legend layout="vertical" align="center" verticalAlign="middle" content={() => <LegendBox />}
          wrapperStyle={{ position: 'absolute', left: plotR - 165, top: 411, width: 157, height: 107 }} />
      </ScatterChart>
      <svg width={width} height={H} style={{ position: 'absolute', left: 0, top: 0, pointerEvents: 'none' }}>
        <text x={plotL + 1} y={plotT - 3} fontFamily={SERIF} fontSize={13} fill={INK}>
          ×10<tspan dy={-6} fontSize={9.5}>16</tspan>
        </text>
        <text x={plotR} y={563} textAnchor="end" fontFamily={SERIF} fontSize={13} fill={INK}>
          ×10<tspan dy={-6} fontSize={9.5}>16</tspan>
        </text>
        <text x={(plotL + plotR) / 2} y={564} textAnchor="middle" fontFamily={SERIF} fontSize={14} fill={INK}>
          FTIR methanol column (molec/cm<tspan dy={-5} fontSize={10}>2</tspan><tspan dy={5}>)</tspan>
        </text>
        <text x={0} y={0} transform={`translate(25 ${(plotT + plotB) / 2}) rotate(-90)`} textAnchor="middle"
          fontFamily={SERIF} fontSize={14} fill={INK}>
          IASI methanol column (molec/cm<tspan dy={-5} fontSize={10}>2</tspan><tspan dy={5}>)</tspan>
        </text>
        <text x={plotR - 67} y={70} textAnchor="middle" fontFamily={SANS} fontWeight="bold" fontSize={32} fill="#000">
          {letter}
        </text>
        {statsAll.map((t, i) => (
          <text key={t} x={plotL + 12} y={66.6 + i * 15.2} fontFamily={SERIF} fontSize={13} fill="#FF00FF">{t}</text>
        ))}
        {statsSub.map((t, i) => (
          <text key={t} x={plotL + 12} y={176 + i * 15.2} fontFamily={SERIF} fontSize={13} fill="#0000FF">{t}</text>
        ))}
      </svg>
    </div>
  );
};

const SERIES_A = [
  parse(EUREKA_A, EUREKA_A_MORE),
  parse(STPETE_A, STPETE_A_MORE),
  parse(JUNGFRAU_A, JUNGFRAU_A_MORE),
  parse(TORONTO_A, TORONTO_A_MORE),
  parse(PORTO_A),
  parse(MAIDO_A, MAIDO_A_MORE),
  parse(STDENIS_A, STDENIS_A_MORE),
];
const SERIES_B = [
  parse(EUREKA_B, EUREKA_B_MORE),
  parse(STPETE_B, STPETE_B_MORE),
  parse(JUNGFRAU_B, JUNGFRAU_B_MORE),
  parse(TORONTO_B, TORONTO_B_MORE),
  parse(PORTO_B),
  parse(MAIDO_B, MAIDO_B_MORE),
  parse(STDENIS_B, STDENIS_B_MORE),
];

export default function App() {
  return (
    <div style={{ position: 'absolute', left: 0, top: 0, width: 1145, height: H, background: '#fff', overflow: 'hidden' }}>
      <Panel left={0} width={575} rightMargin={9} series={SERIES_A}
        letter="a" statsAll={STATS_ALL_A} statsSub={STATS_SUB_A} fitAll={FIT_ALL_A} fitSub={FIT_SUB_A} />
      <Panel left={574} width={571} rightMargin={6} series={SERIES_B}
        letter="b" statsAll={STATS_ALL_B} statsSub={STATS_SUB_B} fitAll={FIT_ALL_B} fitSub={FIT_SUB_B} />
    </div>
  );
}
